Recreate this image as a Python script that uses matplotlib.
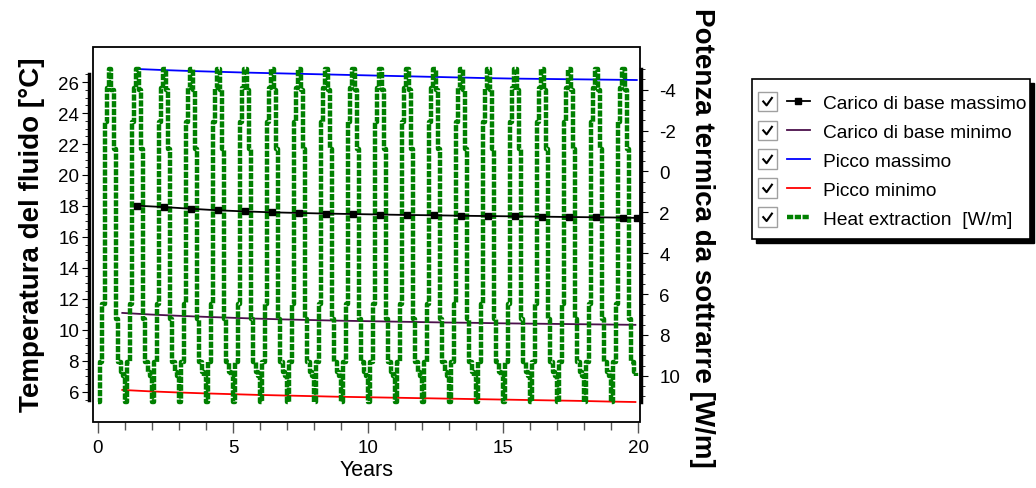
import matplotlib

matplotlib.use("Agg")
import matplotlib.pyplot as plt
import numpy as np
from matplotlib.legend_handler import HandlerLine2D
from matplotlib.lines import Line2D
from matplotlib.patches import Rectangle

plt.rcParams["font.family"] = ["Liberation Sans", "DejaVu Sans"]
plt.rcParams["axes.unicode_minus"] = False

N_YEARS = 20
# heat extraction [W/m], one value per month Jan..Dec, repeated every year
HEAT_MONTHLY = [11.26, 9.3, 6.5, -2.4, -4.1, -5.0, -4.0, -1.1, 7.2, 9.3, 9.8, 10.0]

# fluid temperatures [°C], one value per year
MAX_YEARS = [1.45, 2.45, 3.45, 4.45, 5.45, 6.45, 7.45, 8.45, 9.45, 10.45,
             11.45, 12.45, 13.45, 14.45, 15.45, 16.45, 17.45, 18.45, 19.45, 19.95]
BASE_MAX = [18.02, 17.93, 17.82, 17.72, 17.65, 17.59, 17.55, 17.51, 17.48, 17.45,
            17.42, 17.40, 17.37, 17.35, 17.33, 17.31, 17.29, 17.27, 17.25, 17.23]
PEAK_MAX = [26.84, 26.77, 26.71, 26.66, 26.61, 26.57, 26.53, 26.49, 26.45, 26.41,
            26.37, 26.33, 26.29, 26.25, 26.22, 26.20, 26.18, 26.16, 26.14, 26.13]
MIN_YEARS = [0.9, 1.9, 2.9, 3.9, 4.9, 5.9, 6.9, 7.9, 8.9, 9.9,
             10.9, 11.9, 12.9, 13.9, 14.9, 15.9, 16.9, 17.9, 18.9, 19.9]
BASE_MIN = [11.10, 11.00, 10.92, 10.85, 10.79, 10.73, 10.68, 10.64, 10.60, 10.57,
            10.54, 10.51, 10.48, 10.46, 10.43, 10.41, 10.39, 10.37, 10.35, 10.33]
PEAK_MIN = [6.13, 6.04, 5.97, 5.91, 5.86, 5.81, 5.77, 5.73, 5.69, 5.66,
            5.63, 5.60, 5.57, 5.54, 5.51, 5.48, 5.45, 5.42, 5.38, 5.35]

LABELS = ["Carico di base massimo", "Carico di base minimo", "Picco massimo",
          "Picco minimo", "Heat extraction  [W/m]"]

W, H = 1036, 489


class CheckHandler(HandlerLine2D):
    """Legend handle with a ticked checkbox in front of the line sample."""

    def create_artists(self, legend, orig_handle, xdescent, ydescent, width,
                       height, fontsize, trans):
        side = 0.38 * width
        shift = 0.56 * width
        arts = super().create_artists(legend, orig_handle, xdescent - shift,
                                      ydescent, width - shift, height, fontsize, trans)
        x0 = -xdescent
        y0 = (height - ydescent) / 2 - side / 2
        box = Rectangle((x0, y0), side, side, facecolor="white",
                        edgecolor="#a0a0a0", lw=1.0, transform=trans)
        tick = Line2D([x0 + 0.28 * side, x0 + 0.45 * side, x0 + 0.72 * side],
                      [y0 + 0.50 * side, y0 + 0.30 * side, y0 + 0.68 * side],
                      color="black", lw=1.5, transform=trans)
        return [box, tick] + list(arts)


fig = plt.figure(figsize=(W / 100, H / 100), dpi=100)
ax = fig.add_axes([93 / W, 1 - 423 / H, 547 / W, 375 / H])
ax2 = ax.twinx()

l_bmin, = ax.plot(MIN_YEARS, BASE_MIN, color="#4b0f4b", lw=1.3)
l_pmax, = ax.plot(MAX_YEARS, PEAK_MAX, color="#0000ff", lw=1.3)
l_pmin, = ax.plot(MIN_YEARS, PEAK_MIN, color="#ff0000", lw=1.3)

t = np.arange(N_YEARS * 12) / 12
heat = np.tile(HEAT_MONTHLY, N_YEARS)
l_heat, = ax2.plot(t, heat, color="#008000", lw=3.2, drawstyle="steps-post",
                   linestyle=(0, (1.4, 0.35)))
# base-load max drawn on top of the green curve, in °C coordinates
l_bmax, = ax2.plot(MAX_YEARS, BASE_MAX, color="black", lw=1.3, marker="s",
                   markersize=4.5, transform=ax.transData)

ax.set_xlim(-0.185, 20.07)
ax.set_ylim(4.06, 28.26)
ax2.set_ylim(12.26, -6.09)

# frame
ax.add_patch(Rectangle((0, 0), 1, 1, transform=ax.transAxes, fill=False,
                       lw=1.3, edgecolor="black", clip_on=False, zorder=5))
for s in ("top", "bottom", "right"):
    ax.spines[s].set_visible(False)
for s in ("top", "bottom", "left"):
    ax2.spines[s].set_visible(False)
ax.spines["left"].set_bounds(5.5, 26.5)
ax.spines["left"].set_position(("outward", 3))
ax.spines["left"].set_linewidth(2.5)
ax2.spines["right"].set_bounds(-5.0, 11.3)
ax2.spines["right"].set_position(("outward", 1))
ax2.spines["right"].set_linewidth(2.5)

ax.set_xticks(np.arange(0, 21, 5))
ax.set_xticks(np.arange(0, 21, 1), minor=True)
ax.set_yticks(np.arange(6, 27, 2))
ax.set_yticks(np.arange(5.5, 26.6, 0.5), minor=True)
ax2.set_yticks(np.arange(-4, 11, 2))
ax2.set_yticks(np.arange(-5, 11.4, 0.5), minor=True)

ax.tick_params(axis="x", which="major", direction="out", length=8, width=1.0,
               labelsize=13.5, pad=4, color="#555555")
ax.tick_params(axis="x", which="minor", direction="out", length=6, width=1.0,
               color="#555555")
ax.tick_params(axis="y", which="major", length=5, labelsize=13.5, pad=2)
ax.tick_params(axis="y", which="minor", length=3)
ax2.tick_params(axis="y", which="major", length=5, labelsize=13.5, pad=8)
ax2.tick_params(axis="y", which="minor", length=3)

ax.set_xlabel("Years", fontsize=15.5)
ax.xaxis.set_label_coords(0.5, -0.1)
ax.set_ylabel("Temperatura del fluido [°C]", fontsize=20, fontweight="bold")
ax.yaxis.set_label_coords(-0.088, 0.501)
ax2.set_ylabel("Potenza termica da sottrarre [W/m]", fontsize=20,
               fontweight="bold", rotation=270, va="bottom")
ax2.yaxis.set_label_coords(1.09, 0.495)

# legend box with a solid drop shadow, drawn by hand so its padding can differ
lx0, ly0, lx1, ly1 = 752, 80, 1030, 240
fig.patches.append(Rectangle(((lx0 + 4) / W, 1 - (ly1 + 4) / H), (lx1 - lx0) / W,
                             (ly1 - ly0) / H, transform=fig.transFigure,
                             facecolor="black", edgecolor="black", zorder=1))
fig.patches.append(Rectangle((lx0 / W, 1 - ly1 / H), (lx1 - lx0) / W,
                             (ly1 - ly0) / H, transform=fig.transFigure,
                             facecolor="white", edgecolor="black", lw=1.2, zorder=2))

leg = fig.legend([l_bmax, l_bmin, l_pmax, l_pmin, l_heat], LABELS,
                 loc="upper left", bbox_to_anchor=(lx0 / W, 1 - 90 / H),
                 borderaxespad=0, fontsize=13.8, handlelength=2.7,
                 handletextpad=0.68, labelspacing=0.6, borderpad=0.3,
                 numpoints=1, frameon=False,
                 handler_map={Line2D: CheckHandler()})
leg.set_zorder(3)

fig.savefig("out.png", dpi=100)
